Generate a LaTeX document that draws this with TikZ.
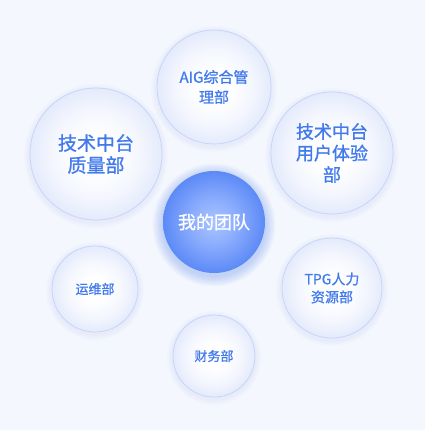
\documentclass[tikz,border=0pt]{standalone}
\usepackage{fontspec}
\setmainfont{Noto Sans CJK SC}
\newfontfamily\medfont[FakeBold=1]{Noto Sans CJK SC}
\usetikzlibrary{shadings}
\definecolor{bg}{RGB}{244,247,254}
\definecolor{rim}{RGB}{194,211,250}
\definecolor{txt}{RGB}{66,122,236}
\definecolor{glow}{RGB}{90,135,245}
\pgfdeclareradialshading{bubble}{\pgfpoint{0bp}{0bp}}{rgb(0bp)=(1,1,1); rgb(7bp)=(1,1,1); rgb(17bp)=(0.955,0.965,0.995); rgb(25bp)=(0.895,0.92,0.987); rgb(50bp)=(0.895,0.92,0.987)}
\pgfdeclareradialshading{core}{\pgfpoint{0bp}{0bp}}{rgb(0bp)=(0.66,0.77,1); rgb(11bp)=(0.55,0.68,0.995); rgb(25bp)=(0.36,0.54,0.965); rgb(50bp)=(0.36,0.54,0.965)}
\tikzset{
  bub/.style={circle, shading=bubble, draw=rim, line width=0.7pt, text=txt, align=center, inner sep=0pt},
  ctr/.style={circle, shading=core, draw=none, text=white, align=center, inner sep=0pt},
}
\begin{document}
\begin{tikzpicture}[x=1pt,y=-1pt]
\useasboundingbox (0,0) rectangle (425,430);
\fill[bg] (0,0) rectangle (425,430);
% soft halos
\foreach \c/\r in {{214,87}/57,{96,154}/66,{332,153}/61,{332,288}/50,{95,289}/43,{214,356}/41}{
  \foreach \k in {1,...,4}{
    \fill[glow, opacity=0.018] (\c) ++(0,2) circle ({\r+\k*1.5});
  }
}
\foreach \k in {1,...,8}{
  \fill[glow, opacity=0.045] (214,225) circle ({51+\k*1.3});
}
\node[bub, minimum size=114pt, font=\medfont\fontsize{15}{20}\selectfont] (aig) at (214,87) {AIG综合管\\理部};
\node[bub, minimum size=132pt, font=\medfont\fontsize{19}{22}\selectfont] (zl) at (96,154) {技术中台\\质量部};
\node[bub, minimum size=122pt, font=\medfont\fontsize{18}{21.5}\selectfont] (yh) at (332,153) {技术中台\\用户体验\\部};
\node[bub, minimum size=100pt, font=\medfont\fontsize{14}{18}\selectfont] (tpg) at (332,288) {TPG人力\\资源部};
\node[bub, minimum size=86pt, font=\medfont\fontsize{13}{16}\selectfont] (yw) at (95,289) {运维部};
\node[bub, minimum size=82pt, font=\medfont\fontsize{13}{16}\selectfont] (cw) at (214,356) {财务部};
\node[ctr, minimum size=102pt, font=\medfont\fontsize{18}{22}\selectfont] (me) at (214,222) {我的团队};
\end{tikzpicture}
\end{document}
